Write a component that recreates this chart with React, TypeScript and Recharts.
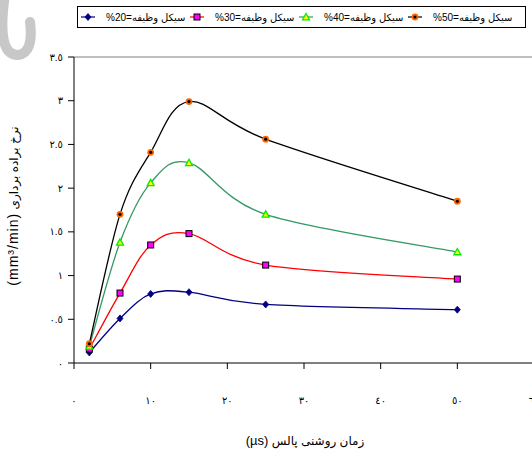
import { LineChart, Line, XAxis, YAxis, ReferenceLine } from "recharts"

// pulse on-time (µs)
const pulseOn = [2, 6, 10, 15, 25, 50]
// material removal rate (mm3/min) per duty cycle
const duty20 = [0.12, 0.51, 0.79, 0.81, 0.67, 0.61]
const duty30 = [0.16, 0.8, 1.35, 1.48, 1.12, 0.96]
const duty40 = [0.19, 1.38, 2.06, 2.29, 1.7, 1.27]
const duty50 = [0.22, 1.7, 2.41, 2.99, 2.56, 1.85]

const xTicks = [0, 10, 20, 30, 40, 50, 60]
const yTicks = [0, 0.5, 1, 1.5, 2, 2.5, 3, 3.5]

const legendLabels = ["20", "30", "40", "50"]
const dutyWord = "سیکل وظیفه"

const rows = pulseOn.map((x, i) => ({ x, d20: duty20[i], d30: duty30[i], d40: duty40[i], d50: duty50[i] }))

const FONT = '"Liberation Sans", Arial, "DejaVu Sans", sans-serif'

// persian digits for tick labels
const fa = (v: number) => String(v).replace(/[0-9]/g, (d) => String.fromCharCode(0x0660 + Number(d)))

// excel style smoothed line (catmull-rom through the points)
const excelSmooth = (ctx: any) => {
  let xs: number[] = []
  let ys: number[] = []
  return {
    areaStart() {},
    areaEnd() {},
    lineStart() { xs = []; ys = [] },
    point(x: number, y: number) { xs.push(+x); ys.push(+y) },
    lineEnd() {
      const n = xs.length
      if (!n) return
      ctx.moveTo(xs[0], ys[0])
      for (let i = 0; i < n - 1; i++) {
        const a = Math.max(i - 1, 0)
        const d = Math.min(i + 2, n - 1)
        ctx.bezierCurveTo(
          xs[i] + (xs[i + 1] - xs[a]) / 6, ys[i] + (ys[i + 1] - ys[a]) / 6,
          xs[i + 1] - (xs[d] - xs[i]) / 6, ys[i + 1] - (ys[d] - ys[i]) / 6,
          xs[i + 1], ys[i + 1])
      }
    },
  }
}

function Marker({ kind, cx, cy }: { kind: string; cx: number; cy: number }) {
  if (kind === "20") {
    return <path d={`M${cx},${cy - 3.5} L${cx + 3},${cy} L${cx},${cy + 3.5} L${cx - 3},${cy} Z`} fill="#000080" stroke="#000080" strokeWidth={0.8} />
  }
  if (kind === "30") {
    return <rect x={cx - 3} y={cy - 3} width={6} height={6} fill="#ff00ff" stroke="#000" strokeWidth={1} />
  }
  if (kind === "40") {
    return <path d={`M${cx},${cy - 3.5} L${cx + 3.5},${cy + 2.8} L${cx - 3.5},${cy + 2.8} Z`} fill="#ffff00" stroke="#00ee00" strokeWidth={1.3} />
  }
  return (
    <g>
      <circle cx={cx} cy={cy} r={3.4} fill="#ff6600" />
      <circle cx={cx} cy={cy} r={1.6} fill="#000" />
    </g>
  )
}

const dotFor = (kind: string) => (p: any) => <Marker key={`${kind}-${p.index}`} kind={kind} cx={p.cx} cy={p.cy} />

const colors: Record<string, string> = { "20": "#000080", "30": "#ff0000", "40": "#339966", "50": "#000000" }

function YTitle() {
  return (
    <text x={0} y={0} transform="translate(18,206) rotate(-90)" textAnchor="middle" fontFamily={FONT} fill="#000">
      <tspan fontSize={14} letterSpacing={1}>(mm³/min)</tspan>
      <tspan fontSize={12}> نرخ براده برداری</tspan>
    </text>
  )
}

function XTitle() {
  return (
    <text x={305} y={445} textAnchor="middle" fontFamily={FONT} fill="#000">
      <tspan fontSize={13}>(µs)</tspan>
      <tspan fontSize={12}> زمان روشنی پالس</tspan>
    </text>
  )
}

function LegendBox() {
  return (
    <div style={{ position: "absolute", left: 77, top: 6, width: 444, height: 20, border: "1px solid #000", display: "flex", alignItems: "center", paddingLeft: 3, fontFamily: FONT, fontSize: 10, color: "#000", background: "#fff", overflow: "hidden" }}>
      {legendLabels.map((k) => (
        <div key={k} style={{ display: "flex", alignItems: "center", width: 109, flexShrink: 0, whiteSpace: "nowrap" }}>
          <svg width={14} height={10} style={{ marginRight: 11, flexShrink: 0 }}>
            <line x1={0} y1={5} x2={14} y2={5} stroke={colors[k]} strokeWidth={1.2} />
            <Marker kind={k} cx={7} cy={5} />
          </svg>
          <span>%{k}=</span>
          <span>{dutyWord}</span>
        </div>
      ))}
    </div>
  )
}

export default function App() {
  const tickStyle = { fontFamily: FONT, fontSize: 10, fill: "#000" }
  return (
    <div style={{ position: "absolute", left: 0, top: 0, width: 532, height: 456, overflow: "hidden", background: "#fff" }}>
      {/* grey watermark arc in the corner */}
      <svg width={50} height={64} style={{ position: "absolute", left: 0, top: 0 }}>
        <path d="M5,-6 Q-4,56 18,55 Q34,53 30,22" fill="none" stroke="#c8c8c8" strokeWidth={10} strokeLinecap="round" />
      </svg>
      <LineChart width={534} height={456} data={rows} margin={{ top: 57, right: 0, left: 0, bottom: 53 }} style={{ position: "absolute", left: 0, top: 0 }}>
        <ReferenceLine y={3.5} stroke="#808080" strokeWidth={1} />
        <XAxis
          dataKey="x"
          type="number"
          domain={[0, 60]}
          ticks={xTicks}
          tickFormatter={fa}
          height={40}
          tickSize={6}
          tickMargin={28}
          interval={0}
          stroke="#000"
          tick={tickStyle}
          label={<XTitle />}
        />
        <YAxis
          type="number"
          domain={[0, 3.5]}
          ticks={yTicks}
          tickFormatter={fa}
          width={74}
          tickSize={6}
          tickMargin={5}
          interval={0}
          stroke="#000"
          tick={tickStyle}
          label={<YTitle />}
        />
        <Line dataKey="d20" type={excelSmooth as any} stroke={colors["20"]} strokeWidth={1.3} dot={dotFor("20")} isAnimationActive={false} />
        <Line dataKey="d30" type={excelSmooth as any} stroke={colors["30"]} strokeWidth={1.3} dot={dotFor("30")} isAnimationActive={false} />
        <Line dataKey="d40" type={excelSmooth as any} stroke={colors["40"]} strokeWidth={1.3} dot={dotFor("40")} isAnimationActive={false} />
        <Line dataKey="d50" type={excelSmooth as any} stroke={colors["50"]} strokeWidth={1.3} dot={dotFor("50")} isAnimationActive={false} />
      </LineChart>
      <LegendBox />
    </div>
  )
}
